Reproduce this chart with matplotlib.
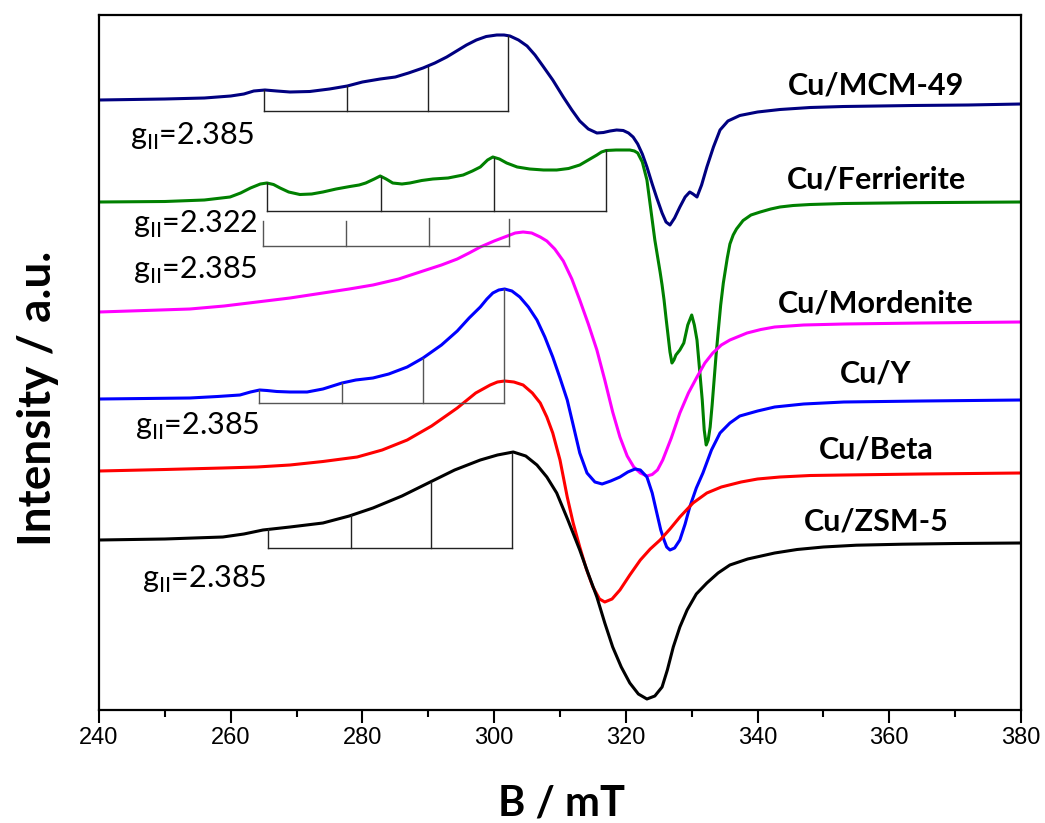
import numpy as np
import matplotlib
matplotlib.use('Agg')
import matplotlib.pyplot as plt

# EPR spectra, field in mT, intensity in arbitrary (offset) units
mcm_x = [240, 250, 256, 260, 262, 263.5, 265.2, 267, 269, 272, 275, 277.7, 280, 282.7, 285,
         287, 289.2, 291, 292.8, 294.3, 295.8, 297.3, 298.8, 300.4, 301.5, 302.4, 303.7, 305.0,
         306.2, 307.4, 308.9, 310.5, 311.8, 313.0, 314.3, 315.6, 316.6, 317.6, 318.6, 319.6,
         320.4, 321.1, 321.8, 322.5, 323.2, 324.0, 324.7, 325.5, 326.1, 326.7, 327.4, 328.2,
         329.0, 329.7, 330.2, 330.8, 331.5, 332.3, 333.3, 334.3, 335.5, 337.3, 340, 343.4,
         348, 353.1, 363.6, 372, 380]
mcm_y = [610, 611, 612, 614, 616, 619, 620, 619, 618, 618.5, 621, 624, 628, 631, 633,
         637, 642, 647, 653, 659, 665, 670, 673.5, 675, 675, 674, 670, 664,
         655, 644, 630, 613, 600, 589, 581, 577, 577.5, 579, 580, 579.5,
         577, 573, 566, 556, 543, 526, 512, 497, 488, 485, 492, 503,
         513, 518, 516, 513, 525, 543, 563, 580, 589, 594.5, 598, 600.5,
         602.5, 603.5, 604.5, 605, 606]

fer_x = [240, 250, 256, 259.9, 261.5, 263, 264.5, 265.5, 266.5, 267.5, 268.8, 270.5, 272.3,
         274, 276, 278.1, 279.5, 280.5, 281.8, 282.7, 283.6, 284.6, 286, 287.2, 289, 290.7,
         293, 295.3, 296.7, 297.9, 299, 299.8, 300.8, 301.9, 303.5, 305.4, 307.5, 309.5, 311.3,
         313.0, 314.3, 315.6, 316.3, 317.0, 318.5, 320.6, 321.3, 321.8, 322.5, 323.2, 323.8,
         324.4, 325.2, 325.5, 325.8, 326.1, 326.4, 326.7, 327.0, 327.3, 327.6, 328.2, 328.8,
         329.4, 330.0, 330.4, 330.8, 331.2, 331.6, 331.9, 332.2, 332.5, 332.8, 333.1, 333.4,
         333.7, 334.0, 334.4, 334.8, 335.4, 335.8, 336.3, 336.8, 337.8, 339.0, 340.4, 342.0,
         343.4, 345.4, 348, 353.1, 363.6, 380]
fer_y = [508, 508.5, 510, 513, 517, 522, 526, 527, 525.5, 522, 518, 515.5, 516,
         518, 521, 523.5, 525, 527, 531, 534, 531, 527, 526, 527, 529.5, 531,
         532, 535, 539, 543, 550, 553, 551, 547, 543, 541, 540, 540, 541.5,
         545, 550, 555, 558, 559.5, 560, 560, 559, 557, 548, 530, 500,
         470, 438, 425, 410, 392, 375, 358, 347, 350, 355, 360, 367,
         385, 395, 385, 370, 340, 310, 280, 265, 270, 283, 305, 330,
         355, 377, 405, 427, 452, 466, 475, 481, 489.5, 495, 498, 501,
         503, 504.5, 505.5, 506.5, 507.3, 508]

mor_x = [240, 247, 253.8, 259, 264, 269, 274, 278, 281.6, 285.5, 289.2, 292, 294.4, 296.2,
         297.9, 300, 302.0, 303.2, 304.4, 305.7, 307.0, 308.0, 309.2, 310.5, 311.8, 313.0,
         314.3, 315.6, 316.8, 318.0, 319.1, 320.2, 321.2, 322.2, 323.2, 324.0, 324.8, 325.6,
         326.9, 328.2, 329.5, 330.8, 332.0, 333.2, 334.5, 335.8, 338.4, 340.5, 342.6, 347,
         353.1, 365, 380]
mor_y = [398, 399.5, 401, 404, 408, 412, 417, 421, 425, 431, 439, 445, 451, 457,
         463, 469, 474, 477, 478, 477, 473, 469, 461, 449, 431, 410,
         386, 360, 330, 298, 273, 254, 243, 237, 234, 235.5, 240, 250,
         272, 297, 317, 333, 347, 357, 365, 370, 377, 380.5, 383, 385,
         386, 387, 388]

y_x = [240, 247, 253.8, 258, 261.4, 263, 264.4, 265.5, 267.0, 269, 271.6, 274, 276.9, 279,
       281.6, 284, 286.8, 289.2, 292, 294.4, 296.2, 297.9, 298.9, 299.8, 300.7, 301.6, 302.7,
       303.9, 305.2, 306.5, 307.7, 308.9, 310.0, 311.1, 312.0, 313.0, 314.1, 315.3, 316.4,
       317.7, 319.1, 320.3, 321.4, 322.2, 323.2, 324.0, 324.7, 325.3, 325.8, 326.2, 326.7,
       327.4, 328.2, 329.0, 329.7, 330.7, 331.7, 333.0, 334.3, 335.8, 337.3, 340, 342.6,
       347, 353.1, 365, 380]
y_y = [311, 311.5, 312, 313.5, 315, 318, 320, 319.5, 318.5, 318, 318, 321, 327, 330,
       332, 336, 343, 352, 365, 379, 392, 403, 411, 417, 420, 421, 419,
       413, 403, 390, 373, 353, 332, 310, 285, 257, 237, 228, 226,
       229, 233, 238, 241, 240, 233, 217, 197, 180, 170, 163, 160,
       162, 170, 186, 203, 222, 237, 260, 277, 287, 294, 299, 303,
       306, 308, 309, 310]

beta_x = [240, 250, 258.8, 264, 269.0, 274, 279.2, 283, 286.8, 290.5, 294.4, 297.2, 299.4,
          300.5, 301.6, 303.0, 304.4, 305.8, 307.0, 308.0, 308.9, 310.0, 311.1, 312.0, 313.0,
          314.0, 315.0, 316.0, 316.8, 317.9, 319.1, 320.6, 322.2, 323.7, 325.2, 326.7, 328.2,
          330.2, 332.3, 334.5, 337.5, 340, 343.4, 348, 353.1, 365, 380]
beta_y = [239, 240.5, 242, 243, 245, 248.5, 253, 260, 270, 284, 302, 317, 325,
          328, 329, 328, 325, 317, 307, 293, 277, 250, 213, 187, 163,
          141, 123, 111, 108, 111, 120, 135, 150, 161, 170, 181, 193,
          207, 217, 223, 228, 231, 233, 234.5, 235, 236, 237]

zsm_x = [240, 250, 258.8, 262, 264.9, 269, 274.0, 278, 281.6, 286, 290.3, 294, 297.9, 300.5,
         302.9, 304.8, 306.5, 308.0, 309.5, 311.2, 313.0, 314.3, 315.6, 316.8, 318.0, 319.3,
         320.6, 321.9, 323.2, 324.4, 325.5, 326.3, 327.2, 328.2, 329.3, 330.7, 332.3, 334.0,
         335.8, 338.5, 342.6, 346, 350, 355, 362, 370, 380]
zsm_y = [170, 171, 173, 176, 180, 183, 187, 194, 202, 214, 228, 240, 250, 255,
         258, 254, 245, 233, 217, 190, 160, 136, 113, 87, 63, 43,
         27, 16, 11, 14, 23, 40, 63, 83, 100, 116, 127, 137,
         145, 151, 157, 160.5, 163, 164.8, 165.8, 166.5, 167]

names = ['Cu/MCM-49', 'Cu/Ferrierite', 'Cu/Mordenite', 'Cu/Y', 'Cu/Beta', 'Cu/ZSM-5']
colors = ['#000080', '#008000', '#ff00ff', '#0000ff', '#ff0000', '#000000']
name_y = [615, 522, 398, 327, 252, 180]

# hyperfine stick positions (mT), baseline and stick tops
stick_x = [[265.05, 277.66, 289.95, 302.10],
           [265.5, 282.8, 300.0, 317.0],
           [264.9, 277.5, 290.1, 302.3],
           [264.3, 276.9, 289.2, 301.5],
           [265.7, 278.3, 290.4, 302.7]]
stick_base = [599, 499, 464, 307, 162]
stick_top = [[620, 624, 643, 674],
             [527, 533, 552, 560],
             [489, 489, 492, 491],
             [320, 327, 352, 421],
             [181, 195, 228, 257]]
stick_col = ['#222222', '#222222', '#555555', '#555555', '#222222']

g_labels = ['2.385', '2.322', '2.385', '2.385', '2.385']
g_x = [244.7, 245.2, 245.2, 245.5, 246.5]
g_y = [565, 477, 431, 275, 122]

fig = plt.figure(figsize=(10.45, 8.23), dpi=100)
ax = fig.add_axes([99/1045, 1-710/823, 922/1045, 695/823])

curves = [(mcm_x, mcm_y), (fer_x, fer_y), (mor_x, mor_y), (y_x, y_y), (beta_x, beta_y), (zsm_x, zsm_y)]
for (xs, ys), c in zip(curves, colors):
    ax.plot(xs, ys, color=c, lw=2.2, solid_capstyle='round', solid_joinstyle='round')

for sx, b, tops, c in zip(stick_x, stick_base, stick_top, stick_col):
    ax.plot([sx[0], sx[-1]], [b, b], color=c, lw=1)
    for x, t in zip(sx, tops):
        ax.plot([x, x], [b, t], color=c, lw=1)

for n, yy in zip(names, name_y):
    ax.text(358.0, yy, n, ha='center', va='baseline', fontsize=22,
            fontweight='bold', family='Lato')

for lab, x, yy in zip(g_labels, g_x, g_y):
    ax.text(x, yy, r'g$_{\mathregular{II}}$=' + lab, ha='left', va='baseline',
            fontsize=22, family='Lato')

ax.set_xlim(240, 380)
ax.set_ylim(0, 695)
ax.set_xticks(np.arange(240, 381, 20))
ax.set_xticks(np.arange(250, 380, 20), minor=True)
ax.set_yticks([])
ax.tick_params(axis='x', which='major', length=9, width=1.5, pad=3,
               labelsize=17, direction='out', labelfontfamily='Liberation Sans')
ax.tick_params(axis='x', which='minor', length=5, width=1.5, direction='out')
for s in ax.spines.values():
    s.set_linewidth(1.6)

fig.text(562/1045, 1-803/823, 'B / mT', ha='center', va='center',
         fontsize=30, fontweight='bold', family='Lato')
fig.text(38/1045, 1-398/823, 'Intensity / a.u.', ha='center', va='center',
         rotation=90, fontsize=33, fontweight='bold', family='Lato')

fig.savefig('out.png', dpi=100)
